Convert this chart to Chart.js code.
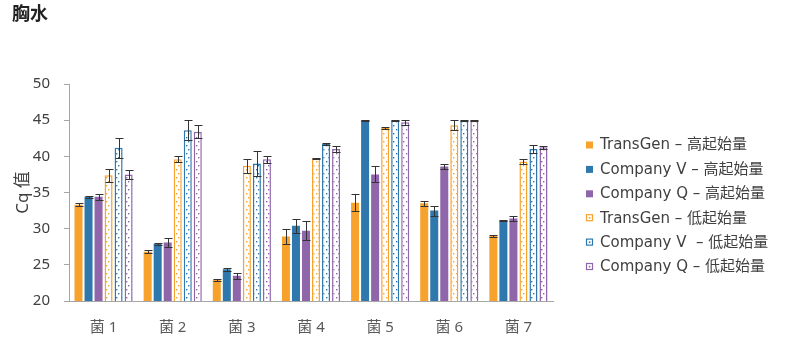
<!DOCTYPE html>
<html><head><meta charset="utf-8">
<script src="https://cdn.jsdelivr.net/npm/chart.js@4/dist/chart.umd.min.js"></script>
<style>html,body{margin:0;padding:0;background:#fff}#wrap{width:800px;height:350px}</style>
</head><body><div id="wrap"><canvas id="c" width="800" height="350"></canvas></div>
<script>
const categories = ['菌 1','菌 2','菌 3','菌 4','菌 5','菌 6','菌 7'];
const seriesNames = ['TransGen – 高起始量','Company V – 高起始量','Company Q – 高起始量','TransGen – 低起始量','Company V  – 低起始量','Company Q – 低起始量'];
const transgenHigh = [33.3, 26.8, 22.95, 28.9, 33.6, 33.5, 29.0];
const companyVHigh = [34.4, 27.9, 24.4, 30.4, 45.0, 32.5, 31.1];
const companyQHigh = [34.4, 28.1, 23.5, 29.7, 37.5, 38.6, 31.4];
const transgenLow = [37.4, 39.6, 38.7, 39.7, 43.9, 44.3, 39.3];
const companyVLow = [41.2, 43.6, 39.0, 41.7, 45.0, 45.0, 41.0];
const companyQLow = [37.5, 43.4, 39.6, 41.0, 44.7, 45.0, 41.25];
const transgenHighErr = [0.2, 0.2, 0.15, 1.0, 1.15, 0.3, 0.1];
const companyVHighErr = [0.1, 0.1, 0.2, 1.0, 0.05, 0.7, 0.1];
const companyQHighErr = [0.4, 0.6, 0.4, 1.3, 1.1, 0.3, 0.3];
const transgenLowErr = [0.9, 0.4, 1.0, 0.1, 0.1, 0.7, 0.3];
const companyVLowErr = [1.4, 1.4, 1.7, 0.1, 0.05, 0.05, 0.6];
const companyQLowErr = [0.6, 0.9, 0.5, 0.4, 0.3, 0.05, 0.2];
const yTicks = [20, 25, 30, 35, 40, 45, 50];

const ORANGE = '#F7A22D', BLUE = '#2E78AE', PURPLE = '#9066AB';
const FONT = "'Noto Sans', 'Noto Sans CJK SC', sans-serif";
const LEGEND_FONT = "'DejaVu Sans', 'Noto Sans CJK SC', sans-serif";
Chart.defaults.font.family = FONT;

function dotPattern(color) {
  const c = document.createElement('canvas');
  c.width = 5; c.height = 8;
  const g = c.getContext('2d');
  g.fillStyle = '#fff'; g.fillRect(0, 0, 5, 8);
  g.fillStyle = color;
  g.fillRect(1, 1, 1.4, 1.4);
  g.fillRect(3, 5, 1.4, 1.4);
  return g.createPattern(c, 'repeat');
}

const ctx = document.getElementById('c').getContext('2d');
const mk = (label, data, err, color, dotted) => ({
  label, data, err, _color: color, _dotted: dotted,
  backgroundColor: dotted ? dotPattern(color) : color,
  borderColor: color,
  borderWidth: dotted ? 1.5 : 0,
  barPercentage: 0.8,
  categoryPercentage: 0.87
});

const errorBars = {
  id: 'errorBars',
  afterDatasetsDraw(chart) {
    const g = chart.ctx, y = chart.scales.y;
    g.save();
    g.strokeStyle = '#333';
    g.lineWidth = 1;
    chart.data.datasets.forEach((ds, i) => {
      const meta = chart.getDatasetMeta(i);
      meta.data.forEach((bar, j) => {
        const v = ds.data[j], e = ds.err[j];
        const yt = Math.round(y.getPixelForValue(v + e)) + 0.5;
        const yb = Math.round(y.getPixelForValue(v - e)) + 0.5;
        const x = Math.round(bar.x) + 0.5;
        const hw = 4;
        g.beginPath();
        g.moveTo(x, yt); g.lineTo(x, yb);
        g.moveTo(x - hw, yt); g.lineTo(x + hw, yt);
        g.moveTo(x - hw, yb); g.lineTo(x + hw, yb);
        g.stroke();
      });
    });
    g.restore();
  }
};

const customLegend = {
  id: 'customLegend',
  afterDraw(chart) {
    const g = chart.ctx;
    g.save();
    g.font = '15px ' + LEGEND_FONT;
    g.textBaseline = 'middle';
    g.textAlign = 'left';
    chart.data.datasets.forEach((ds, i) => {
      const cy = 145 + i * 24.4;
      if (ds._dotted) {
        g.fillStyle = '#fff';
        g.fillRect(586, cy - 3.5, 7, 7);
        g.strokeStyle = ds._color; g.lineWidth = 1.2;
        g.strokeRect(586.5, cy - 3.5, 6, 6);
        g.fillStyle = ds._color;
        g.fillRect(588.8, cy - 1.2, 1.6, 1.6);
      } else {
        g.fillStyle = ds._color;
        g.fillRect(586, cy - 3.5, 7, 7);
      }
      g.fillStyle = '#404040';
      g.fillText(ds.label, 600, cy + 0.5);
    });
    g.restore();
  }
};

new Chart(ctx, {
  type: 'bar',
  data: {
    labels: categories,
    datasets: [
      mk(seriesNames[0], transgenHigh, transgenHighErr, ORANGE, false),
      mk(seriesNames[1], companyVHigh, companyVHighErr, BLUE, false),
      mk(seriesNames[2], companyQHigh, companyQHighErr, PURPLE, false),
      mk(seriesNames[3], transgenLow, transgenLowErr, ORANGE, true),
      mk(seriesNames[4], companyVLow, companyVLowErr, BLUE, true),
      mk(seriesNames[5], companyQLow, companyQLowErr, PURPLE, true)
    ]
  },
  options: {
    responsive: false,
    animation: false,
    layout: { padding: { left: 12, right: 247, top: 0, bottom: 0 } },
    plugins: {
      legend: { display: false },
      tooltip: { enabled: false },
      title: {
        display: true, text: '胸水', align: 'start', color: '#222',
        font: { size: 18, weight: 'bold' },
        padding: { top: 4, bottom: 58.4 }
      }
    },
    scales: {
      x: {
        grid: { display: false, drawTicks: false },
        border: { display: true, color: '#A6A6A6', width: 1 },
        ticks: { color: '#595959', font: { size: 15 }, padding: 18 },
        afterFit(s) { s.height = 49; }
      },
      y: {
        min: 20, max: 50,
        afterBuildTicks(s) { s.ticks = yTicks.map(v => ({ value: v })); },
        grid: { display: true, drawOnChartArea: false, drawTicks: true, tickLength: 5, color: '#A6A6A6' },
        border: { display: true, color: '#A6A6A6', width: 1 },
        ticks: { color: '#404040', font: { size: 15 }, padding: 14 },
        title: { display: true, text: 'Cq 值', color: '#404040', font: { size: 17 }, padding: { top: 1, bottom: 0 } },
        afterFit(s) { s.width = 57; }
      }
    }
  },
  plugins: [errorBars, customLegend]
});
</script></body></html>
